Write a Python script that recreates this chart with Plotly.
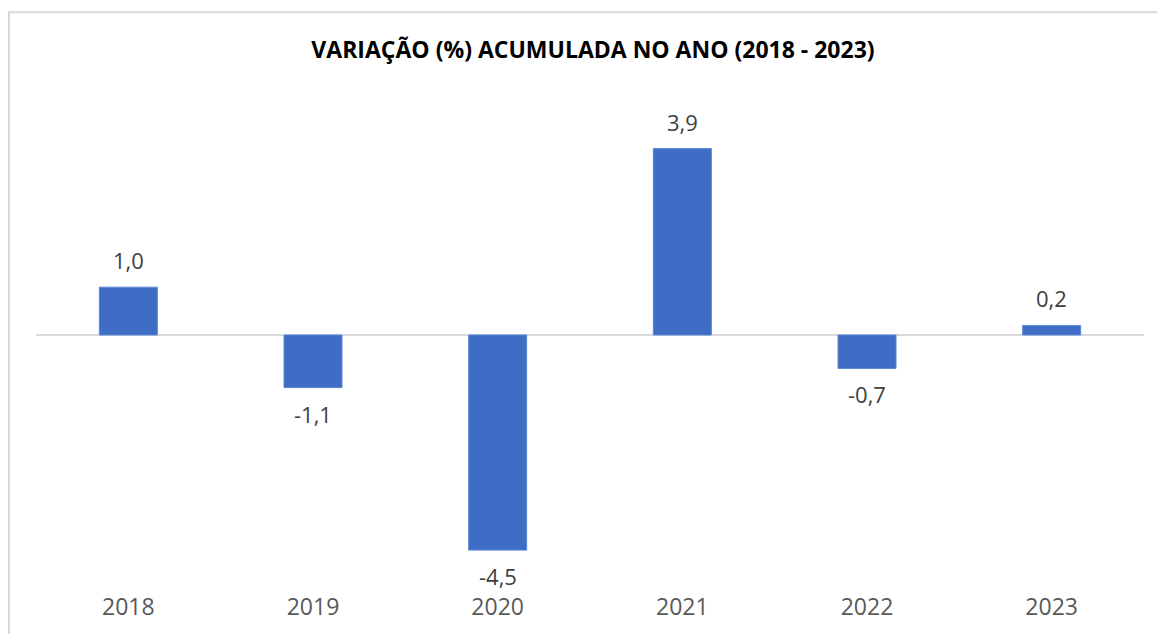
import plotly.graph_objects as go

years = ["2018", "2019", "2020", "2021", "2022", "2023"]
values = [1.0, -1.1, -4.5, 3.9, -0.7, 0.2]
title_text = "VARIAÇÃO (%) ACUMULADA NO ANO (2018 - 2023)"

fig = go.Figure(
    go.Bar(
        x=years,
        y=values,
        marker=dict(color="#3f6dc6", line=dict(color="#5a86d4", width=1)),
        hoverinfo="x+y",
    )
)

# data labels (category index positions), offset like the reference
for i, v in enumerate(values):
    fig.add_annotation(
        x=i, y=v,
        text=f"{v:.1f}".replace(".", ","),
        showarrow=False,
        yshift=27 if v >= 0 else -26,
        font=dict(family="Open Sans", size=22, color="#404040"),
    )

W, H = 1157, 626
fig.update_layout(
    width=W,
    height=H,
    separators=",.",
    paper_bgcolor="white",
    plot_bgcolor="white",
    margin=dict(l=28, r=21, t=88, b=58),
    bargap=0.686,
    showlegend=False,
    title=dict(
        text="<b>" + title_text + "</b>",
        x=585 / W,
        xanchor="center",
        y=1 - 42 / H,
        yanchor="middle",
        font=dict(family="Open Sans", size=23, color="#000000"),
    ),
    font=dict(family="Open Sans"),
)

fig.update_xaxes(
    type="category",
    showgrid=False,
    showline=False,
    ticks="",
    ticklabelstandoff=17,
    tickfont=dict(family="Open Sans", size=23, color="#595959"),
)
fig.update_yaxes(
    range=[-5, 5],
    showgrid=False,
    showticklabels=False,
    zeroline=True,
    zerolinecolor="#d9d9d9",
    zerolinewidth=2,
)

fig.add_shape(
    type="rect",
    xref="paper", yref="paper",
    x0=-27 / 1108, x1=1.1,
    y0=-0.3, y1=1 + 84 / 480,
    line=dict(color="#d9d9d9", width=2),
    fillcolor="rgba(0,0,0,0)",
    layer="below",
)

fig.write_html("out.html")
